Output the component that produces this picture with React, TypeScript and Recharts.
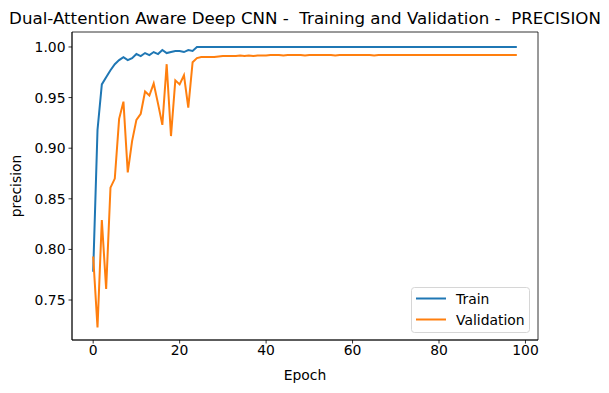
import React from "react";
import {
  LineChart,
  Line,
  XAxis,
  YAxis,
  ReferenceArea,
} from "recharts";

const trainPrecision: number[] = [
  0.778, 0.918, 0.963, 0.97, 0.977, 0.983, 0.987, 0.99, 0.987, 0.989,
  0.993, 0.991, 0.994, 0.992, 0.995, 0.993, 0.997, 0.994, 0.995, 0.996,
  0.996, 0.995, 0.997, 0.996, 1.0, 1.0, 1.0, 1.0, 1.0, 1.0,
  1.0, 1.0, 1.0, 1.0, 1.0, 1.0, 1.0, 1.0, 1.0, 1.0,
  1.0, 1.0, 1.0, 1.0, 1.0, 1.0, 1.0, 1.0, 1.0, 1.0,
  1.0, 1.0, 1.0, 1.0, 1.0, 1.0, 1.0, 1.0, 1.0, 1.0,
  1.0, 1.0, 1.0, 1.0, 1.0, 1.0, 1.0, 1.0, 1.0, 1.0,
  1.0, 1.0, 1.0, 1.0, 1.0, 1.0, 1.0, 1.0, 1.0, 1.0,
  1.0, 1.0, 1.0, 1.0, 1.0, 1.0, 1.0, 1.0, 1.0, 1.0,
  1.0, 1.0, 1.0, 1.0, 1.0, 1.0, 1.0, 1.0, 1.0,
];

const valPrecision: number[] = [
  0.793, 0.723, 0.829, 0.761, 0.861, 0.87, 0.929, 0.946, 0.876, 0.907,
  0.928, 0.934, 0.956, 0.952, 0.964, 0.944, 0.923, 0.983, 0.912, 0.967,
  0.963, 0.972, 0.94, 0.985, 0.989, 0.99, 0.99, 0.99, 0.99, 0.9905,
  0.991, 0.991, 0.991, 0.991, 0.9915, 0.991, 0.9915, 0.991, 0.9915, 0.9915,
  0.9915, 0.992, 0.992, 0.992, 0.9915, 0.992, 0.992, 0.992, 0.992, 0.9915,
  0.992, 0.992, 0.992, 0.992, 0.992, 0.992, 0.9915, 0.992, 0.992, 0.992,
  0.992, 0.992, 0.992, 0.992, 0.992, 0.9915, 0.992, 0.992, 0.992, 0.992,
  0.992, 0.992, 0.992, 0.992, 0.992, 0.992, 0.992, 0.992, 0.992, 0.992,
  0.992, 0.992, 0.992, 0.992, 0.992, 0.992, 0.992, 0.992, 0.992, 0.992,
  0.992, 0.992, 0.992, 0.992, 0.992, 0.992, 0.992, 0.992, 0.992,
];

const xTicks: number[] = [0, 20, 40, 60, 80, 100];
const yTicks: number[] = [0.75, 0.8, 0.85, 0.9, 0.95, 1.0];
const seriesNames: string[] = ["Train", "Validation"];

const X_MIN = -4.9;
const X_MAX = 102.9;
const Y_MIN = 0.7105;
const Y_MAX = 1.0148;

const data = trainPrecision.map((t, i) => ({
  epoch: i,
  train: t,
  val: valPrecision[i],
}));

const FONT = "'DejaVu Sans', sans-serif";
const BLUE = "#1f77b4";
const ORANGE = "#ff7f0e";
const COLORS = [BLUE, ORANGE];

export default function App() {
  return (
    <div style={{ position: "absolute", left: 0, top: 0, width: 609, height: 393, background: "#fff" }}>
      <LineChart
        width={609}
        height={393}
        data={data}
        margin={{ top: 32, right: 71, bottom: 0, left: 0 }}
        style={{ fontFamily: FONT }}
      >
        <text
          x={305}
          y={24}
          textAnchor="middle"
          fontFamily={FONT}
          fontSize={16.67}
          fill="#000"
          style={{ whiteSpace: "pre" }}
          xmlSpace="preserve"
        >
          {"Dual-Attention Aware Deep CNN -  Training and Validation -  PRECISION"}
        </text>
        <XAxis
          dataKey="epoch"
          type="number"
          domain={[X_MIN, X_MAX]}
          ticks={xTicks}
          allowDataOverflow
          height={53}
          tickSize={3.5}
          tickLine={{ stroke: "#000", strokeWidth: 0.8 }}
          axisLine={{ stroke: "#000", strokeWidth: 0.8 }}
          tick={{ fill: "#000", fontSize: 13.9, fontFamily: FONT }}
          tickMargin={2}
          label={{
            value: "Epoch",
            position: "insideBottom",
            offset: 13,
            fill: "#000",
            fontSize: 13.9,
            fontFamily: FONT,
          }}
        />
        <YAxis
          type="number"
          domain={[Y_MIN, Y_MAX]}
          ticks={yTicks}
          allowDataOverflow
          width={72}
          tickSize={3.5}
          tickLine={{ stroke: "#000", strokeWidth: 0.8 }}
          axisLine={{ stroke: "#000", strokeWidth: 0.8 }}
          tick={{ fill: "#000", fontSize: 13.9, fontFamily: FONT }}
          tickMargin={3}
          tickFormatter={(v: number) => v.toFixed(2)}
          label={{
            value: "precision",
            angle: -90,
            position: "insideLeft",
            offset: 16,
            fill: "#000",
            fontSize: 13.9,
            fontFamily: FONT,
            style: { textAnchor: "middle" },
          }}
        />
        <ReferenceArea
          x1={X_MIN}
          x2={X_MAX}
          y1={Y_MIN}
          y2={Y_MAX}
          fill="none"
          stroke="#000"
          strokeWidth={0.8}
          ifOverflow="visible"
        />
        <Line
          type="linear"
          dataKey="train"
          name="Train"
          stroke={BLUE}
          strokeWidth={2}
          dot={false}
          isAnimationActive={false}
        />
        <Line
          type="linear"
          dataKey="val"
          name="Validation"
          stroke={ORANGE}
          strokeWidth={2}
          dot={false}
          isAnimationActive={false}
        />
        <g>
          <rect
            x={411.5}
            y={287.5}
            width={118}
            height={45}
            rx={3}
            ry={3}
            fill="#fff"
            fillOpacity={0.8}
            stroke="#d6d6d6"
            strokeWidth={1}
          />
          {seriesNames.map((name, i) => (
            <g key={name}>
              <line
                x1={416}
                x2={446}
                y1={298.5 + i * 21}
                y2={298.5 + i * 21}
                stroke={COLORS[i]}
                strokeWidth={2}
              />
              <text
                x={456}
                y={303.5 + i * 21}
                fontFamily={FONT}
                fontSize={13.9}
                fill="#000"
              >
                {name}
              </text>
            </g>
          ))}
        </g>
      </LineChart>
    </div>
  );
}
